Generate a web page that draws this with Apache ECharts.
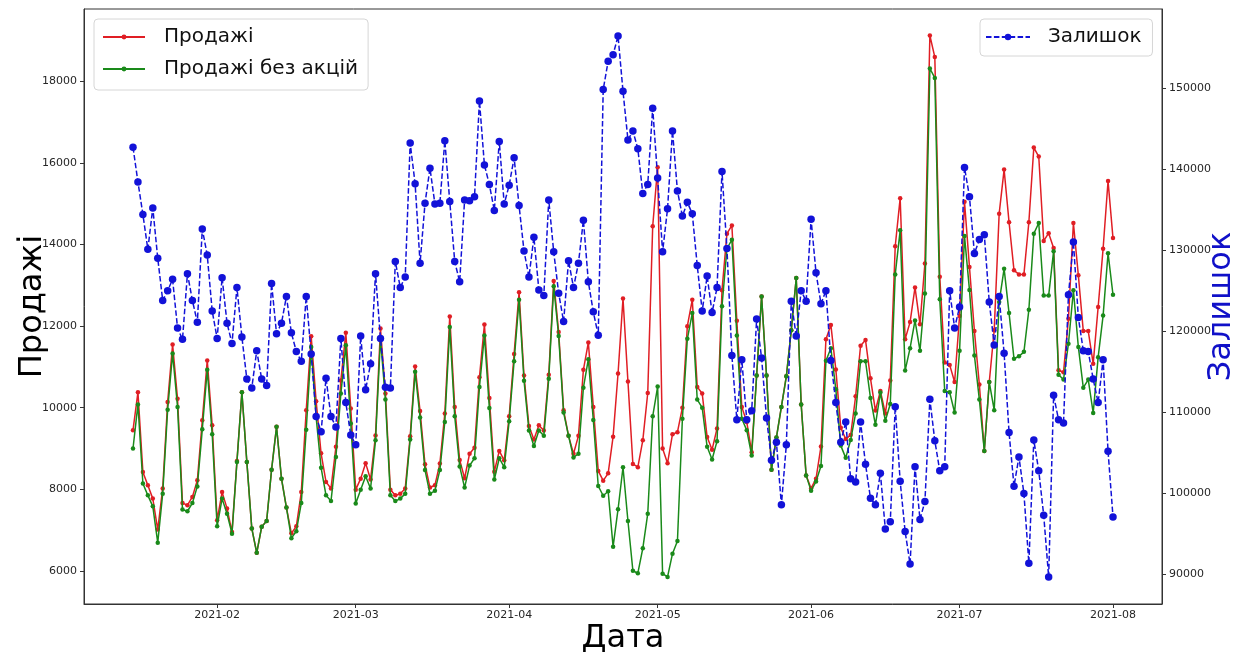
<!DOCTYPE html>
<html>
<head>
<meta charset="utf-8">
<script src="https://cdn.jsdelivr.net/npm/echarts@6/dist/echarts.min.js"></script>
<style>
html,body{margin:0;padding:0;background:#fff;}
#chart{width:1248px;height:657px;}
</style>
</head>
<body>
<div id="chart"></div>
<script>
// Daily data, first day 2021-01-15, last day 2021-08-01
const startDate = [2021, 0, 15];
const dayCount = 199;

const sales = [
9450,10380,8420,8100,7770,7010,8020,10140,11550,10220,
7660,7610,7810,8220,9690,11160,9570,7240,7930,7530,
6950,8690,10380,8670,7040,6440,7080,7220,8480,9530,
8260,7550,6920,7090,7930,9940,11750,10160,8880,8180,
8020,9040,10670,11840,9980,7990,8260,8640,8240,9320,
11940,10350,7990,7850,7890,8020,9300,11010,9920,8610,
8040,8100,8630,9860,12240,10020,8720,8270,8870,9020,
10750,12040,10240,8430,8940,8710,9790,11320,12830,10790,
9550,9220,9570,9440,10810,13110,11860,9940,9310,8870,
9310,10930,11600,10020,8450,8210,8390,9290,10840,12680,
10640,8620,8540,9200,10360,14450,15900,9000,8640,9350,
9400,10000,12000,12650,10510,10350,9280,8970,9490,12880,
14270,14470,12130,10020,9650,8910,10790,12730,10790,8480,
9270,10020,10770,11900,13180,10080,8340,8020,8260,9050,
11680,12030,10940,9510,9230,9330,10280,11520,11660,10720,
9930,10410,9860,10670,13960,15140,11680,12100,12950,12050,
13540,19130,18600,13210,11110,11050,10630,12250,15050,13450,
11880,10570,8940,10630,11900,14760,15840,14550,13370,13270,
13270,14550,16380,16160,14090,14280,13920,10920,10870,12180,
14530,13250,11880,11880,11080,12470,13900,15560,14160
];

const salesNoPromo = [
9000,10080,8140,7850,7580,6690,7890,9950,11330,10020,
7500,7460,7660,8070,9470,10930,9350,7090,7770,7400,
6910,8670,10380,8670,7040,6440,7080,7220,8480,9530,
8260,7550,6800,6970,7660,9460,11490,9770,8530,7850,
7710,8790,10350,11530,9610,7650,7990,8320,8020,9200,
11690,10200,7850,7710,7770,7890,9220,10880,9760,8470,
7890,7960,8470,9650,11980,9790,8560,8040,8580,8760,
10510,11770,9990,8240,8760,8540,9670,11140,12650,10660,
9440,9060,9440,9310,10710,12980,11760,9880,9310,8780,
8870,10490,11190,9700,8080,7840,7950,6590,7510,8540,
7220,6000,5940,6550,7400,9790,10520,5930,5850,6420,
6730,9730,11690,12320,10200,10000,9040,8730,9180,12490,
13900,14120,11770,9730,9450,8830,10790,12730,10790,8480,
9270,10020,10770,11900,13180,10080,8340,7960,8190,8570,
11150,11460,10450,9070,8770,9210,9860,11140,11140,10240,
9580,10370,9680,10090,13270,14350,10910,11460,12140,11400,
12800,18320,18090,12660,10410,10380,9880,11400,14210,12890,
11280,10200,8940,10630,9940,12590,13410,12320,11200,11260,
11370,12400,14270,14530,12750,12750,13840,10810,10690,11570,
12880,11490,10490,10690,9870,11240,12260,13790,12770
];

const stock = [
142700,138400,134400,130100,135200,129000,123800,125000,126400,120400,
119000,127100,123800,121100,132600,129400,122500,119100,126600,121000,
118500,125400,119300,114100,113000,117600,114100,113300,125900,119700,
121000,124300,119800,117500,116300,124300,117200,109500,107600,114200,
109500,108200,119100,111200,107200,106000,119400,112800,116000,127100,
119100,113100,113000,128600,125400,126700,143200,138200,128400,135800,
140100,135700,135800,143500,136000,128600,126100,136200,136100,136600,
148400,140500,138100,134900,143400,135700,138000,141400,135500,129900,
126700,131600,125100,124400,136200,129800,124700,121200,128700,125400,
128400,133700,126100,122400,119500,149800,153300,154100,156400,149600,
143600,144700,142500,137000,138100,147500,138900,129800,135100,144700,
137300,134200,135900,134500,128100,122500,126800,122300,125400,139700,
130200,117000,109100,116500,109100,110200,121500,116700,109300,104100,
106300,98600,106000,123700,119400,125000,123700,133800,127200,123400,
125000,116400,111200,106300,108800,101800,101400,108800,103600,99400,
98600,102500,95600,96500,110700,101500,95300,91300,103300,96800,
99000,111600,106500,102800,103300,125000,120400,123000,140200,136600,
129600,131300,131900,123600,118300,124300,117300,107500,100900,104500,
100000,91400,106600,102800,97300,89700,112100,109100,108700,124500,
131000,121700,117600,117500,114100,111200,116500,105200,97100
];

const salesTicks = [6000, 8000, 10000, 12000, 14000, 16000, 18000];
const stockTicks = [90000, 100000, 110000, 120000, 130000, 140000, 150000];
const monthTickLabels = ['2021-02','2021-03','2021-04','2021-05','2021-06','2021-07','2021-08'];

const DAY = 86400000;
const dates = [];
for (let i = 0; i < dayCount; i++) {
  dates.push(new Date(startDate[0], startDate[1], startDate[2] + i).getTime());
}
const monthTicks = monthTickLabels.map(s => {
  const p = s.split('-');
  return new Date(+p[0], +p[1] - 1, 1).getTime();
});
const pad2 = n => (n < 10 ? '0' : '') + n;
const toPairs = arr => arr.map((v, i) => [dates[i], v]);

const FONT = 'DejaVu Sans';
const AX = '#333333';
const TXT = '#262626';

const chart = echarts.init(document.getElementById('chart'), null, {renderer: 'canvas'});
chart.setOption({
  animation: false,
  backgroundColor: '#ffffff',
  grid: {left: 84, right: 86, top: 9, bottom: 53, show: true, borderColor: AX, borderWidth: 1,
         containLabel: false, outerBoundsMode: 'none'},
  legend: [
    {
      data: ['Продажі', 'Продажі без акцій'],
      orient: 'vertical', left: 94, top: 19,
      padding: [7, 10, 10, 8], itemGap: 10, itemWidth: 42, itemHeight: 6,
      backgroundColor: 'rgba(255,255,255,0.85)', borderColor: '#d6d6d6', borderWidth: 1, borderRadius: 4,
      textStyle: {fontFamily: FONT, fontSize: 20, color: '#111', lineHeight: 22, padding: [0, 0, 0, 14]}
    },
    {
      data: ['Залишок'],
      orient: 'vertical', left: 980, top: 19,
      padding: [7, 11, 8, 5], itemWidth: 44, itemHeight: 8,
      backgroundColor: 'rgba(255,255,255,0.85)', borderColor: '#d6d6d6', borderWidth: 1, borderRadius: 4,
      textStyle: {fontFamily: FONT, fontSize: 20, color: '#111', lineHeight: 22, padding: [0, 0, 0, 13]}
    }
  ],
  xAxis: {
    type: 'value',
    min: dates[0] - 9.9 * DAY,
    max: dates[dates.length - 1] + 9.9 * DAY,
    axisLine: {show: true, onZero: false, lineStyle: {color: AX, width: 1}},
    axisTick: {show: true, length: 4, customValues: monthTicks, lineStyle: {color: AX}},
    axisLabel: {
      customValues: monthTicks, fontFamily: FONT, fontSize: 11, color: TXT, margin: 6,
      formatter: v => { const d = new Date(v); return d.getFullYear() + '-' + pad2(d.getMonth() + 1); }
    },
    splitLine: {show: false},
    name: 'Дата', nameLocation: 'middle', nameGap: 19, nameMoveOverlap: false,
    nameTextStyle: {fontFamily: FONT, fontSize: 32, color: '#000'}
  },
  yAxis: [
    {
      type: 'value', position: 'left', min: 5185, max: 19780,
      axisLine: {show: true, onZero: false, lineStyle: {color: AX}},
      axisTick: {show: true, length: 4, customValues: salesTicks, lineStyle: {color: AX}},
      axisLabel: {customValues: salesTicks, fontFamily: FONT, fontSize: 11, color: TXT, margin: 7,
                  formatter: v => String(Math.round(v))},
      splitLine: {show: false},
      name: 'Продажі', nameLocation: 'middle', nameRotate: 90, nameGap: 35, nameMoveOverlap: false,
      nameTextStyle: {fontFamily: FONT, fontSize: 32, color: '#000'}
    },
    {
      type: 'value', position: 'right', min: 86365, max: 159740,
      axisLine: {show: true, onZero: false, lineStyle: {color: AX}},
      axisTick: {show: true, length: 4, customValues: stockTicks, lineStyle: {color: AX}},
      axisLabel: {customValues: stockTicks, fontFamily: FONT, fontSize: 11, color: TXT, margin: 7,
                  formatter: v => String(Math.round(v))},
      splitLine: {show: false},
      name: 'Залишок', nameLocation: 'middle', nameRotate: 90, nameGap: 44, nameMoveOverlap: false,
      nameTextStyle: {fontFamily: FONT, fontSize: 32, color: '#1010c8'}
    }
  ],
  series: [
    {
      name: 'Продажі', type: 'line', yAxisIndex: 0, z: 2,
      data: toPairs(sales),
      symbol: 'circle', symbolSize: 4.5, showSymbol: true,
      lineStyle: {color: '#e01e24', width: 1.5},
      itemStyle: {color: '#e01e24'}
    },
    {
      name: 'Продажі без акцій', type: 'line', yAxisIndex: 0, z: 3,
      data: toPairs(salesNoPromo),
      symbol: 'circle', symbolSize: 4.5, showSymbol: true,
      lineStyle: {color: '#1a8a1a', width: 1.5},
      itemStyle: {color: '#1a8a1a'}
    },
    {
      name: 'Залишок', type: 'line', yAxisIndex: 1, z: 4,
      data: toPairs(stock),
      symbol: 'circle', symbolSize: 7.5, showSymbol: true,
      lineStyle: {color: '#1212d8', width: 1.5, type: [5.5, 2.4]},
      itemStyle: {color: '#1212d8'}
    }
  ]
});
</script>
</body>
</html>
